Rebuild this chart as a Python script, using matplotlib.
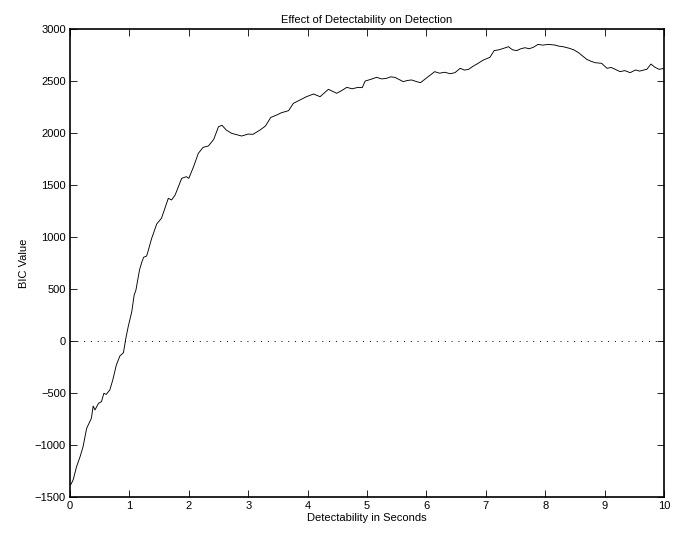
import numpy as np
import matplotlib
matplotlib.use('Agg')
from matplotlib import pyplot as plt

plt.rcParams['font.family'] = ['Liberation Sans', 'DejaVu Sans']

# BIC curve
detectability = [0.0, 0.02, 0.056, 0.11, 0.17, 0.22, 0.28, 0.36, 0.39, 0.42, 0.48,
                 0.53, 0.57, 0.61, 0.67, 0.72, 0.78, 0.84, 0.90, 0.94, 0.98,
                 1.04, 1.08, 1.11, 1.17, 1.21, 1.24, 1.29, 1.32, 1.375, 1.46, 1.54,
                 1.655, 1.71, 1.77, 1.88, 1.96, 2.0, 2.08, 2.16, 2.24, 2.33,
                 2.42, 2.50, 2.56, 2.63, 2.72, 2.80, 2.89, 3.0, 3.08, 3.20,
                 3.29, 3.38, 3.48, 3.56, 3.68, 3.76, 3.87, 3.98, 4.10, 4.21,
                 4.35, 4.49, 4.58, 4.66, 4.75, 4.85, 4.92, 4.97, 5.06, 5.16,
                 5.25, 5.33, 5.40, 5.47, 5.54, 5.61, 5.68, 5.75, 5.83, 5.90,
                 6.03, 6.14, 6.22, 6.31, 6.40, 6.48, 6.57, 6.64, 6.71, 6.78,
                 6.85, 6.96, 7.07, 7.14, 7.22, 7.30, 7.38, 7.45, 7.52, 7.59,
                 7.66, 7.73, 7.80, 7.88, 7.96, 8.05, 8.16, 8.23, 8.30, 8.41,
                 8.48, 8.56, 8.63, 8.70, 8.77, 8.84, 8.95, 9.04, 9.11, 9.18,
                 9.26, 9.34, 9.43, 9.52, 9.59, 9.66, 9.71, 9.78, 9.85, 9.92, 10.0]
bic = [-1380, -1375, -1330, -1209, -1112, -1016, -840, -743, -625, -663, -599,
       -583, -503, -513, -471, -375, -231, -144, -112, 26, 138,
       282, 442, 490, 683, 760, 805, 817, 875, 987, 1125, 1180,
       1372, 1356, 1404, 1564, 1580, 1564, 1676, 1804, 1862, 1875,
       1939, 2061, 2074, 2029, 1997, 1985, 1971, 1990, 1987, 2029,
       2067, 2150, 2173, 2195, 2215, 2285, 2317, 2349, 2375, 2349,
       2420, 2382, 2410, 2439, 2425, 2439, 2436, 2500, 2515, 2535,
       2520, 2526, 2540, 2535, 2515, 2494, 2505, 2510, 2495, 2484,
       2542, 2590, 2575, 2584, 2570, 2580, 2622, 2605, 2612, 2640,
       2663, 2702, 2728, 2792, 2800, 2814, 2830, 2800, 2792, 2810,
       2820, 2810, 2824, 2852, 2845, 2852, 2846, 2835, 2830, 2814,
       2800, 2773, 2740, 2708, 2690, 2676, 2670, 2622, 2630, 2612,
       2590, 2600, 2580, 2606, 2595, 2606, 2612, 2663, 2631, 2612, 2622]

xticks = np.arange(0, 11, 1)
yticks = np.arange(-1500, 3001, 500)

fig = plt.figure(figsize=(6.79, 5.34), dpi=100)
ax = fig.add_axes([70/679, 1-497/534, 594/679, 468/534])

ax.plot(detectability, bic, color='black', linewidth=0.65)
ax.axhline(0, color='black', linestyle=(0, (1, 6)), linewidth=0.7)

ax.set_xlim(0, 10)
ax.set_ylim(-1500, 3000)
ax.set_xticks(xticks)
ax.set_yticks(yticks)
ax.tick_params(direction='in', top=True, right=True, length=5, width=0.6, labelsize=8, pad=3)
for s in ax.spines.values():
    s.set_linewidth(1.2)

ax.set_title('Effect of Detectability on Detection', fontsize=8, pad=4)
ax.set_xlabel('Detectability in Seconds', fontsize=8, labelpad=1)
ax.set_ylabel('BIC Value', fontsize=8, labelpad=4)

fig.savefig('out.png', dpi=100)
